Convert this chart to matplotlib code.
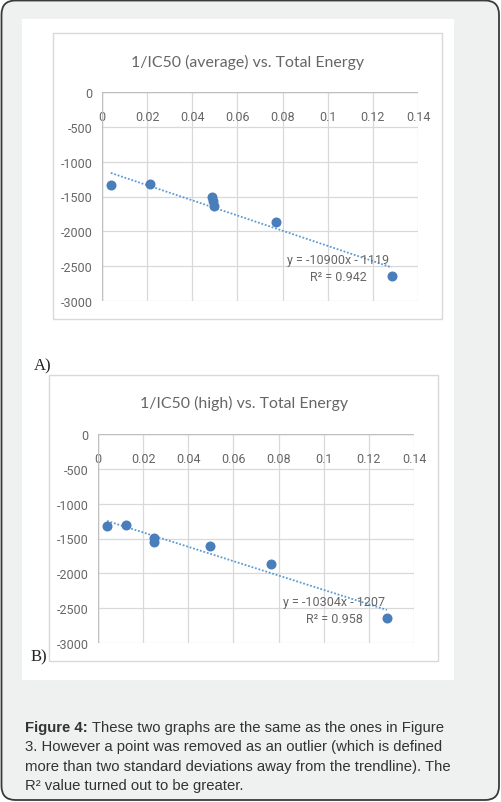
import matplotlib
matplotlib.use("Agg")
import matplotlib.pyplot as plt
from matplotlib.patches import FancyBboxPatch, Rectangle
import numpy as np

plt.rcParams['axes.unicode_minus'] = False

W, H = 501, 803
DPI = 100

# ---------------- data ----------------
x_ticks = [0, 0.02, 0.04, 0.06, 0.08, 0.1, 0.12, 0.14]
x_tick_labels = ["0", "0.02", "0.04", "0.06", "0.08", "0.1", "0.12", "0.14"]
y_ticks = [0, -500, -1000, -1500, -2000, -2500, -3000]
y_tick_labels = ["0", "-500", "-1000", "-1500", "-2000", "-2500", "-3000"]

a_title = "1/IC50 (average) vs. Total Energy"
a_energy = [0.0039, 0.0212, 0.0486, 0.0490, 0.0497, 0.0770, 0.1283]
a_ic50 = [-1332, -1323, -1510, -1570, -1630, -1872, -2641]
a_slope, a_intercept, a_r2 = -10900, -1119, 0.942
a_eq = "y = -10900x - 1119"
a_r2_text = "R² = 0.942"

b_title = "1/IC50 (high) vs. Total Energy"
b_energy = [0.0040, 0.0126, 0.0248, 0.0250, 0.0498, 0.0768, 0.1280]
b_ic50 = [-1325, -1311, -1495, -1545, -1612, -1866, -2636]
b_slope, b_intercept, b_r2 = -10304, -1207, 0.958
b_eq = "y = -10304x - 1207"
b_r2_text = "R² = 0.958"

caption_bold = "Figure 4:"
caption_lines = [
    " These two graphs are the same as the ones in Figure",
    "3. However a point was removed as an outlier (which is defined",
    "more than two standard deviations away from the trendline). The",
    "R² value turned out to be greater.",
]

# ---------------- styles ----------------
NARROW = ['DejaVu Sans Condensed', 'Roboto', 'DejaVu Sans']
TITLE_FONT = ['Lato', 'DejaVu Sans']
GRAY_TXT = '#666666'
GRID = '#d9d9d9'
MARKER = '#4a7ebb'
TREND = '#5b9bd5'

fig = plt.figure(figsize=(W / DPI, H / DPI), dpi=DPI, facecolor='white')


def px(x0, y0, x1, y1):
    return [x0 / W, 1 - y1 / H, (x1 - x0) / W, (y1 - y0) / H]


# background panel
bg = fig.add_axes([0, 0, 1, 1])
bg.set_xlim(0, W)
bg.set_ylim(H, 0)
bg.axis('off')
bg.add_patch(FancyBboxPatch((1.5, 1.5), W - 3.5, H - 3.5,
                            boxstyle="round,pad=0,rounding_size=14",
                            facecolor='#eff0f0', edgecolor='#3a3a3a', lw=1.3))
bg.add_patch(Rectangle((22, 20), 432, 661, facecolor='white', edgecolor='none'))
# chart frames
bg.add_patch(Rectangle((53, 34), 389, 286, facecolor='white', edgecolor=GRID, lw=1))
bg.add_patch(Rectangle((49, 376), 389, 286, facecolor='white', edgecolor=GRID, lw=1))
bg.text(34, 366, "A)", family=['Liberation Serif'], fontsize=12, color='#222222',
        ha='left', va='center')
bg.text(31, 657, "B)", family=['Liberation Serif'], fontsize=12, color='#222222',
        ha='left', va='center')

# caption
fs_cap = 10.7
t0 = bg.text(25, 728, caption_bold, family=['Liberation Sans'], fontweight='bold',
             fontsize=fs_cap, color='#333333', ha='left', va='center')
fig.canvas.draw()
bb = t0.get_window_extent(renderer=fig.canvas.get_renderer())
bold_w = bb.width
bg.text(25 + bold_w, 728, caption_lines[0], family=['Liberation Sans'],
        fontsize=fs_cap, color='#333333', ha='left', va='center')
for i, line in enumerate(caption_lines[1:]):
    bg.text(25, 728 + 19.3 * (i + 1), line, family=['Liberation Sans'],
            fontsize=fs_cap, color='#333333', ha='left', va='center')


def make_chart(rect, title, title_y, xs, ys, slope, intercept, eq, r2t, eq_xy):
    ax = fig.add_axes(px(*rect))
    ax.set_xlim(0, 0.14)
    ax.set_ylim(-3000, 0)
    for s in ax.spines.values():
        s.set_visible(False)
    ax.set_xticks(x_ticks)
    ax.set_yticks(y_ticks)
    ax.grid(True, color=GRID, lw=0.9)
    ax.set_axisbelow(True)
    ax.axhline(0, color='#bfbfbf', lw=1.0, zorder=1)
    ax.axvline(0, color='#bfbfbf', lw=1.0, zorder=1)
    ax.tick_params(axis='x', top=False, bottom=False, labeltop=True, labelbottom=False,
                   pad=-17.5, length=0)
    ax.tick_params(axis='y', left=False, length=0, pad=7)
    ax.set_xticklabels(x_tick_labels, family=NARROW, fontsize=9, color=GRAY_TXT,
                       va='center')
    ax.set_yticklabels(y_tick_labels, family=NARROW, fontsize=9, color=GRAY_TXT)
    # trendline
    tx = np.array([min(xs), max(xs)])
    ax.plot(tx, slope * tx + intercept, linestyle=(0, (1, 1)), color=TREND, lw=1.3,
            zorder=3)
    ax.plot(xs, ys, 'o', color=MARKER, ms=6.2, mec=MARKER, zorder=4, clip_on=False)
    ax.text(eq_xy[0], eq_xy[1], eq, family=NARROW, fontsize=9, color=GRAY_TXT,
            ha='center', va='center', transform=bg.transData)
    ax.text(eq_xy[0], eq_xy[1] + 17, r2t, family=NARROW, fontsize=9, color=GRAY_TXT,
            ha='center', va='center', transform=bg.transData)
    bg.text((rect[0] + rect[2]) / 2 - 12, title_y, title, family=TITLE_FONT,
            fontsize=11.4, color=GRAY_TXT, ha='center', va='center')
    return ax


make_chart((102, 93, 418, 302), a_title, 62, a_energy, a_ic50, a_slope, a_intercept,
           a_eq, a_r2_text, (338, 261))
make_chart((98, 435, 414, 644), b_title, 403, b_energy, b_ic50, b_slope, b_intercept,
           b_eq, b_r2_text, (334, 603))

fig.savefig("out.png", dpi=DPI, facecolor='white')
